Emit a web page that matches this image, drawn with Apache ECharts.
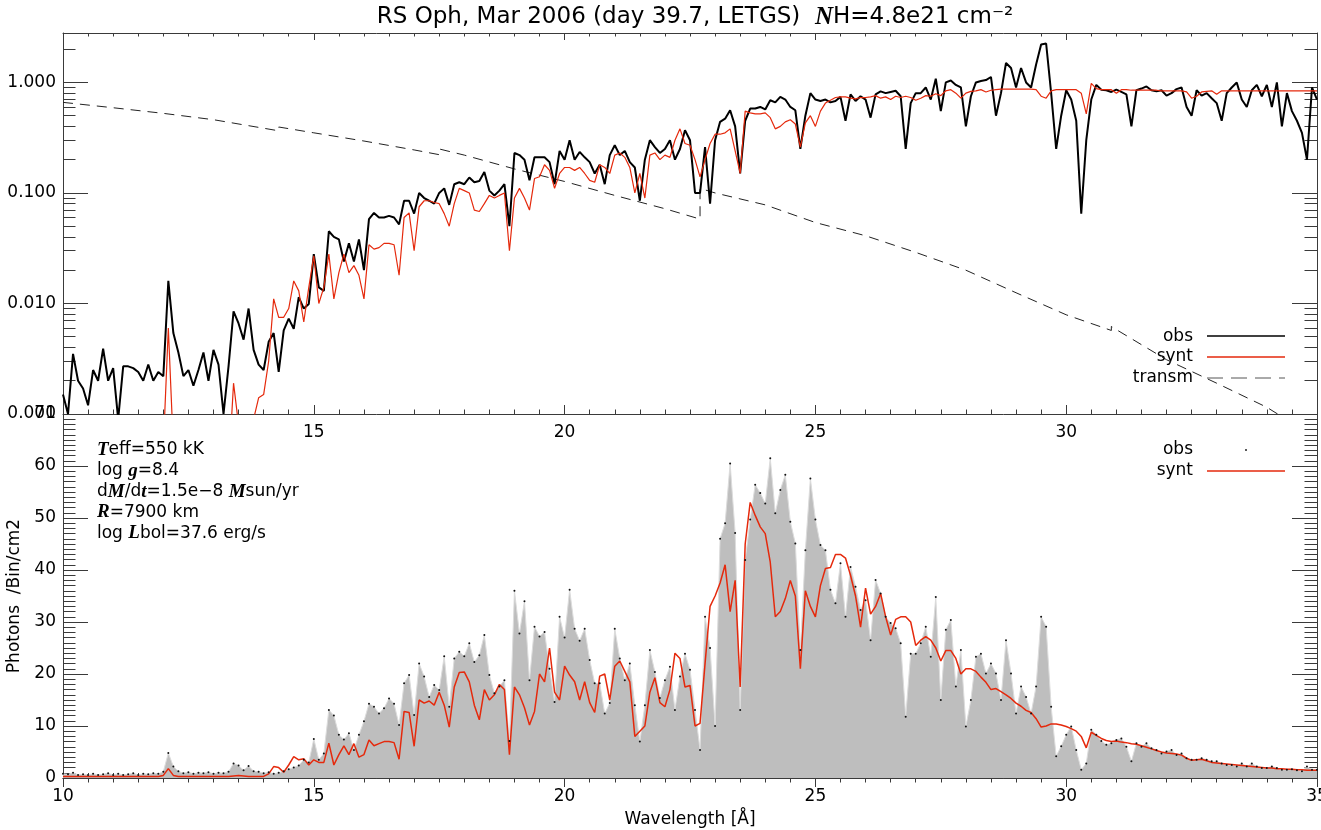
<!DOCTYPE html>
<html>
<head>
<meta charset="utf-8">
<title>RS Oph LETGS</title>
<script src="https://cdn.jsdelivr.net/npm/echarts@6/dist/echarts.min.js"></script>
<style>
  html, body { margin: 0; padding: 0; background: #fff; }
  #chart { width: 1321px; height: 830px; }
</style>
</head>
<body>
<div id="chart"></div>
<script>
// wavelength grid of the spectra: 10.0 .. 35.0 A, 0.1 A steps
var lamStart = 10;
var lamStep = 0.1;

// top panel, observed flux (black)
var obsFlux = [
  0.0015, 0.001, 0.0035, 0.002, 0.0017, 0.0012, 0.0025, 0.002, 0.0039, 0.002,
  0.0026, 0.0009, 0.0027, 0.0027, 0.0026, 0.0024, 0.002, 0.0028, 0.002, 0.0024,
  0.0022, 0.016, 0.0054, 0.0036, 0.0022, 0.0025, 0.0018, 0.0025, 0.0036, 0.002,
  0.0038, 0.0028, 0.001, 0.0027, 0.0085, 0.0066, 0.0047, 0.009, 0.0038, 0.0028,
  0.0025, 0.0045, 0.0054, 0.0024, 0.0057, 0.0073, 0.0059, 0.0114, 0.009, 0.0099,
  0.028, 0.014, 0.013, 0.045, 0.04, 0.038, 0.024, 0.035, 0.024, 0.038,
  0.02, 0.058, 0.066, 0.06, 0.06, 0.062, 0.06, 0.052, 0.085, 0.085,
  0.065, 0.1, 0.09, 0.085, 0.08, 0.1, 0.11, 0.078, 0.12, 0.125,
  0.12, 0.138, 0.125, 0.128, 0.155, 0.105, 0.095, 0.105, 0.12, 0.05,
  0.23, 0.22, 0.2, 0.13, 0.21, 0.21, 0.21, 0.19, 0.12, 0.24,
  0.2, 0.3, 0.2, 0.235, 0.21, 0.19, 0.15, 0.18, 0.12, 0.22,
  0.27, 0.22, 0.24, 0.19, 0.17, 0.085, 0.2, 0.3, 0.26, 0.23,
  0.25, 0.3, 0.2, 0.25, 0.37, 0.3, 0.1, 0.1, 0.26, 0.08,
  0.3, 0.44, 0.47, 0.56, 0.4, 0.15, 0.45, 0.58, 0.58, 0.6,
  0.57, 0.69, 0.66, 0.74, 0.7, 0.6, 0.56, 0.25, 0.5, 0.8,
  0.7, 0.68, 0.7, 0.66, 0.68, 0.74, 0.45, 0.78, 0.68, 0.75,
  0.7, 0.48, 0.78, 0.83, 0.8, 0.82, 0.84, 0.75, 0.25, 0.65,
  0.8, 0.8, 0.9, 0.7, 1.08, 0.55, 1.0, 1.04, 0.95, 0.9,
  0.4, 0.75, 1.0, 1.03, 1.05, 1.12, 0.5, 0.8, 1.5, 1.35,
  0.9, 1.35, 1.0, 0.9, 1.45, 2.2, 2.25, 0.8, 0.25, 0.5,
  0.85, 0.7, 0.45, 0.065, 0.3, 0.7, 0.95, 0.86, 0.85, 0.82,
  0.86, 0.82, 0.78, 0.4, 0.85, 0.88, 0.92, 0.85, 0.83, 0.85,
  0.76, 0.8, 0.87, 0.9, 0.6, 0.5, 0.85, 0.76, 0.8, 0.72,
  0.65, 0.45, 0.8, 0.9, 1.0, 0.7, 0.6, 0.85, 0.95, 0.75,
  0.95, 0.6, 1.0, 0.4, 0.8, 0.55, 0.45, 0.35, 0.2, 0.9,
  0.7
];

// top panel, synthetic flux (red)
var syntFlux = [
  0.0002, 0.0002, 0.0002, 0.0002, 0.0002, 0.0002, 0.0002, 0.0002, 0.0002, 0.0002,
  0.0002, 0.0002, 0.0002, 0.0002, 0.0002, 0.0002, 0.0002, 0.0002, 0.0002, 0.0002,
  0.0005, 0.006, 0.0005, 0.0002, 0.0002, 0.0002, 0.0002, 0.0002, 0.0002, 0.0002,
  0.0002, 0.0002, 0.0002, 0.0003, 0.0019, 0.0008, 0.0007, 0.0008, 0.0009, 0.0014,
  0.0015, 0.003, 0.011, 0.0075, 0.0075, 0.009, 0.016, 0.013, 0.0068, 0.014,
  0.027, 0.01, 0.014, 0.028, 0.011, 0.019, 0.028, 0.019, 0.022, 0.018,
  0.011, 0.034, 0.031, 0.032, 0.035, 0.035, 0.034, 0.018, 0.06, 0.066,
  0.03, 0.075, 0.085, 0.085, 0.082, 0.08, 0.065, 0.05, 0.08, 0.11,
  0.105, 0.1, 0.07, 0.068, 0.08, 0.095, 0.09, 0.095, 0.1, 0.03,
  0.09, 0.11, 0.09, 0.07, 0.135, 0.14, 0.18, 0.16, 0.11, 0.15,
  0.17, 0.17, 0.16, 0.17, 0.15, 0.13, 0.125, 0.18, 0.17, 0.15,
  0.22, 0.23, 0.21, 0.17, 0.1, 0.15, 0.09, 0.22, 0.23, 0.2,
  0.22, 0.21, 0.3, 0.38, 0.28, 0.27, 0.2, 0.14, 0.2, 0.28,
  0.34, 0.34, 0.35, 0.38, 0.24, 0.15, 0.55, 0.53, 0.52, 0.52,
  0.53, 0.48, 0.38, 0.4, 0.44, 0.46, 0.42, 0.26, 0.43, 0.5,
  0.4, 0.55, 0.65, 0.69, 0.73, 0.74, 0.74, 0.72, 0.71, 0.73,
  0.73, 0.74, 0.76, 0.72, 0.74, 0.7, 0.75, 0.73, 0.75, 0.73,
  0.69, 0.72, 0.76, 0.75, 0.79, 0.76, 0.84, 0.86, 0.8, 0.72,
  0.8, 0.83, 0.84, 0.86, 0.82, 0.85, 0.86, 0.87, 0.87, 0.87,
  0.87, 0.87, 0.87, 0.87, 0.86, 0.75, 0.72, 0.84, 0.86, 0.86,
  0.86, 0.86, 0.86, 0.8, 0.52, 0.98, 0.88, 0.86, 0.86, 0.86,
  0.8, 0.86, 0.86, 0.85, 0.85, 0.85, 0.85, 0.85, 0.85, 0.84,
  0.84, 0.84, 0.84, 0.84, 0.82, 0.72, 0.75, 0.82, 0.83, 0.84,
  0.78, 0.84, 0.84, 0.84, 0.84, 0.84, 0.84, 0.84, 0.84, 0.84,
  0.84, 0.84, 0.84, 0.84, 0.84, 0.84, 0.84, 0.84, 0.84, 0.84,
  0.84
];

// ISM transmission (dashed), with the small jumps at the edges
var transmLam = [10, 11, 12, 13, 14, 14.3, 14.3, 15, 16, 17, 17.5, 17.5, 18, 19, 20, 21, 22, 22.7, 22.7,
  23, 24, 25, 26, 27, 28, 29, 30, 30.9, 30.9, 31, 32, 33, 34, 35];
var transmVal = [0.66, 0.59, 0.525, 0.46, 0.385, 0.365, 0.395, 0.35, 0.295, 0.245, 0.222, 0.25, 0.22, 0.165,
  0.127, 0.095, 0.072, 0.058, 0.11, 0.1, 0.078, 0.054, 0.041, 0.029, 0.02, 0.0125, 0.0079, 0.0057, 0.0062,
  0.0058, 0.0031, 0.0019, 0.00115, 0.0006];

// bottom panel, observed photons per bin (grey with dots)
var obsCounts = [
  0.8, 0.7, 1.0, 0.6, 0.7, 0.6, 0.8, 0.6, 0.7, 0.9,
  0.6, 0.8, 0.6, 0.7, 0.9, 0.6, 0.8, 0.7, 0.9, 0.8,
  1.2, 4.8, 2.2, 1.3, 0.9, 1.1, 0.8, 1.0, 0.9, 1.1,
  0.8, 1.0, 0.9, 1.2, 2.8, 2.4, 1.5, 2.3, 1.3, 1.2,
  0.9, 1.1, 0.8, 1.0, 1.3, 1.7, 2.0, 2.4, 3.5, 3.0,
  7.5, 3.5, 4.7, 13.1, 12.0, 8.3, 7.4, 8.6, 5.4, 8.3,
  10.9, 14.3, 13.7, 12.4, 13.4, 15.3, 14.3, 10.2, 18.2, 19.8,
  12.1, 22.0, 19.5, 15.6, 17.9, 16.9, 23.4, 13.7, 23.0, 24.3,
  23.4, 25.9, 22.3, 23.6, 27.5, 19.8, 16.3, 17.6, 18.8, 7.1,
  36.0, 27.8, 34.0, 18.8, 29.1, 27.2, 28.1, 21.0, 14.6, 31.0,
  27.0, 36.2, 28.7, 26.4, 28.7, 22.7, 18.2, 18.2, 12.4, 14.4,
  28.7, 23.0, 18.8, 22.0, 14.0, 7.0, 14.0, 24.6, 20.4, 15.4,
  18.8, 21.4, 13.1, 19.5, 23.9, 20.8, 13.1, 5.4, 31.0, 25.0,
  10.0, 46.0, 49.0, 60.5, 47.1, 13.1, 41.9, 49.7, 56.4, 54.8,
  52.8, 61.5, 50.9, 55.4, 58.3, 49.3, 45.1, 24.6, 43.8, 57.6,
  49.7, 44.8, 43.8, 36.2, 33.6, 41.3, 31.0, 40.6, 36.8, 32.3,
  34.2, 26.5, 38.1, 35.5, 31.0, 29.8, 28.8, 25.9, 11.8, 23.9,
  23.9, 25.9, 29.1, 23.3, 34.8, 15.0, 28.5, 30.4, 17.6, 24.6,
  9.9, 15.0, 23.3, 23.9, 20.1, 22.0, 20.1, 15.0, 26.5, 20.1,
  12.4, 17.6, 15.6, 12.4, 17.6, 31.0, 29.1, 13.7, 4.2, 6.1,
  8.3, 9.9, 5.4, 1.6, 2.8, 9.3, 8.3, 7.1, 6.4, 6.7,
  7.3, 7.6, 6.0, 3.2, 6.7, 6.0, 6.7, 5.7, 5.4, 4.7,
  5.1, 5.4, 4.4, 4.7, 3.8, 3.5, 3.5, 3.8, 3.5, 3.2,
  3.2, 2.8, 2.5, 2.5, 2.2, 2.8, 2.2, 2.8, 2.2, 1.9,
  1.9, 2.2, 1.9, 1.6, 1.6, 1.7, 1.5, 1.3, 2.2, 1.6,
  1.6
];

// bottom panel, synthetic photons per bin (red)
var syntCounts = [
  0.3, 0.3, 0.3, 0.3, 0.3, 0.3, 0.3, 0.3, 0.3, 0.3,
  0.3, 0.3, 0.3, 0.3, 0.3, 0.3, 0.3, 0.3, 0.3, 0.3,
  0.5, 1.8, 0.5, 0.3, 0.3, 0.3, 0.3, 0.3, 0.3, 0.3,
  0.3, 0.3, 0.3, 0.3, 0.4, 0.5, 0.4, 0.3, 0.3, 0.3,
  0.3, 0.8, 2.2, 2.0, 1.1, 2.5, 4.1, 3.5, 3.7, 2.5,
  3.5, 3.0, 3.0, 6.7, 2.5, 4.5, 6.2, 4.5, 6.6, 4.0,
  4.5, 7.3, 6.2, 6.6, 7.0, 7.0, 6.8, 3.6, 12.8, 12.6,
  6.1, 15.0, 14.4, 14.8, 14.0, 16.5, 14.0, 9.8, 17.5, 20.3,
  20.4, 18.5, 14.0, 11.2, 17.0, 15.0, 16.0, 18.0, 17.0, 4.5,
  17.5, 16.0, 13.5, 10.2, 12.8, 20.0, 18.5, 25.0, 16.5, 15.0,
  21.5, 19.8, 18.5, 15.0, 18.5, 14.5, 12.6, 19.6, 20.0, 15.0,
  21.5, 22.5, 20.5, 18.5, 8.0, 9.0, 10.0, 16.5, 19.3, 14.5,
  13.7, 17.0, 24.0, 23.0, 17.5, 17.8, 10.0, 10.5, 22.0, 33.0,
  35.0, 37.5, 41.0, 32.0, 38.0, 17.5, 45.0, 53.0, 50.5, 48.3,
  47.0, 41.5, 31.0, 32.0, 34.5, 38.0, 35.0, 21.0, 36.0, 33.0,
  31.0, 37.0, 40.3, 40.5, 43.0, 43.0, 42.3, 39.0, 35.0, 29.0,
  36.5, 31.5, 33.0, 35.5, 31.0, 27.5, 30.5, 31.0, 31.0, 30.0,
  25.5, 26.5, 27.2, 26.5, 25.0, 22.5, 24.5, 24.5, 23.0, 20.0,
  21.0, 21.0, 20.5, 19.4, 18.4, 17.0, 17.2, 16.6, 16.0, 15.3,
  14.4, 13.8, 13.0, 12.6, 11.4, 9.8, 10.0, 10.4, 10.4, 10.2,
  9.9, 9.5, 9.0, 8.0, 5.8, 8.8, 8.2, 7.6, 7.2, 7.0,
  7.1, 6.9, 6.8, 6.6, 6.5, 6.2, 5.9, 5.6, 5.3, 5.0,
  4.8, 4.7, 4.6, 4.4, 3.8, 3.4, 3.5, 3.6, 3.3, 3.0,
  2.9, 2.8, 2.7, 2.6, 2.5, 2.4, 2.3, 2.2, 2.1, 2.0,
  1.9, 1.9, 1.8, 1.8, 1.7, 1.7, 1.6, 1.6, 1.5, 1.5,
  1.5
];

var xTicks = [10, 15, 20, 25, 30, 35];
var topXLabels = [15, 20, 25, 30];
var logMajor = [0.001, 0.01, 0.1, 1];
var logMinor = [0.002, 0.003, 0.004, 0.005, 0.006, 0.007, 0.008, 0.009,
  0.02, 0.03, 0.04, 0.05, 0.06, 0.07, 0.08, 0.09,
  0.2, 0.3, 0.4, 0.5, 0.6, 0.7, 0.8, 0.9, 2];

var FONT = 'DejaVu Sans';
var AXC = '#3a3a3a';
var RED = '#e5290c';

function onGrid(vals) {
  return vals.map(function (v, i) {
    return [Math.round((lamStart + i * lamStep) * 10) / 10, v];
  });
}
function zipXY(xs, ys) {
  return xs.map(function (x, i) { return [x, ys[i]]; });
}

function xAxisDef(grid, pos, labels, major, minor) {
  return {
    type: 'value', gridIndex: grid, position: pos,
    min: 10, max: 35, interval: 5,
    axisLine: { show: true, lineStyle: { color: AXC, width: 1 } },
    axisTick: { show: true, inside: true, length: major, lineStyle: { color: AXC } },
    minorTick: { show: true, splitNumber: 10, length: minor, lineStyle: { color: AXC } },
    splitLine: { show: false },
    axisLabel: labels ? {
      show: true, customValues: labels, color: '#000', fontFamily: FONT, fontSize: 17, margin: 10
    } : { show: false }
  };
}

function logAxisDef(pos, ticks, len, labels, line) {
  return {
    type: 'log', logBase: 10, gridIndex: 0, position: pos,
    min: 0.001, max: 2.8,
    axisLine: { show: line, lineStyle: { color: AXC, width: 1 } },
    axisTick: { show: true, inside: true, length: len, customValues: ticks, lineStyle: { color: AXC } },
    splitLine: { show: false },
    axisLabel: labels ? {
      show: true, customValues: logMajor, color: '#000', fontFamily: FONT, fontSize: 17, margin: 7,
      formatter: function (v) { return Number(v).toFixed(3); }
    } : { show: false }
  };
}

function countAxisDef(pos, labels) {
  return {
    type: 'value', gridIndex: 1, position: pos,
    min: 0, max: 70, interval: 10,
    axisLine: { show: true, lineStyle: { color: AXC, width: 1 } },
    axisTick: { show: true, inside: true, length: 25, lineStyle: { color: AXC } },
    minorTick: { show: true, splitNumber: 10, length: 12.5, lineStyle: { color: AXC } },
    splitLine: { show: false },
    axisLabel: labels ? { show: true, color: '#000', fontFamily: FONT, fontSize: 17, margin: 7 } : { show: false }
  };
}

var chart = echarts.init(document.getElementById('chart'), null, { renderer: 'canvas' });

var annoRich = {
  n: { fontFamily: FONT, fontSize: 17, color: '#000' },
  b: { fontFamily: 'Liberation Serif', fontStyle: 'italic', fontWeight: 'bold', fontSize: 19, color: '#000' }
};
var annoLines = [
  '{b|T}{n|eff=550 kK}',
  '{n|log }{b|g}{n|=8.4}',
  '{n|d}{b|M}{n|/d}{b|t}{n|=1.5e\u22128 }{b|M}{n|sun/yr}',
  '{b|R}{n|=7900 km}',
  '{n|log }{b|L}{n|bol=37.6 erg/s}'
];

var graphics = [
  { type: 'text', x: 15, y: 596, rotation: Math.PI / 2,
    style: { text: 'Photons  /Bin/cm2', fontFamily: FONT, fontSize: 17, fill: '#000', align: 'center', verticalAlign: 'middle' } },
  { type: 'text', x: 690, y: 820,
    style: { text: 'Wavelength [\u00c5]', fontFamily: FONT, fontSize: 17, fill: '#000', align: 'center', verticalAlign: 'middle' } },
  // top legend
  { type: 'text', x: 1193, y: 337, style: { text: 'obs', fontFamily: FONT, fontSize: 17, fill: '#000', align: 'right', verticalAlign: 'middle' } },
  { type: 'line', shape: { x1: 1207, y1: 336, x2: 1285, y2: 336 }, style: { stroke: '#000', lineWidth: 1.3 } },
  { type: 'text', x: 1193, y: 357, style: { text: 'synt', fontFamily: FONT, fontSize: 17, fill: '#000', align: 'right', verticalAlign: 'middle' } },
  { type: 'line', shape: { x1: 1207, y1: 357, x2: 1285, y2: 357 }, style: { stroke: RED, lineWidth: 1.3 } },
  { type: 'text', x: 1193, y: 378, style: { text: 'transm', fontFamily: FONT, fontSize: 17, fill: '#000', align: 'right', verticalAlign: 'middle' } },
  { type: 'line', shape: { x1: 1207, y1: 378, x2: 1285, y2: 378 }, style: { stroke: '#555', lineWidth: 1, lineDash: [16, 8] } },
  // bottom legend
  { type: 'text', x: 1193, y: 450, style: { text: 'obs', fontFamily: FONT, fontSize: 17, fill: '#000', align: 'right', verticalAlign: 'middle' } },
  { type: 'circle', shape: { cx: 1246, cy: 450, r: 1 }, style: { fill: '#222' } },
  { type: 'text', x: 1193, y: 471, style: { text: 'synt', fontFamily: FONT, fontSize: 17, fill: '#000', align: 'right', verticalAlign: 'middle' } },
  { type: 'line', shape: { x1: 1207, y1: 471, x2: 1285, y2: 471 }, style: { stroke: RED, lineWidth: 1.3 } }
];
annoLines.forEach(function (t, i) {
  graphics.push({ type: 'text', x: 97, y: 450 + i * 20.8,
    style: { text: t, rich: annoRich, verticalAlign: 'middle', align: 'left' } });
});

var option = {
  animation: false,
  backgroundColor: '#fff',
  title: {
    left: 690, top: 0, textAlign: 'center',
    text: '{a|RS Oph, Mar 2006 (day 39.7, LETGS)  }{i|N}{a|H=4.8e21 cm\u207b\u00b2}',
    textStyle: {
      fontWeight: 'normal',
      rich: {
        a: { fontFamily: FONT, fontSize: 23, fontWeight: 'normal', color: '#000' },
        i: { fontFamily: 'Liberation Serif', fontStyle: 'italic', fontWeight: 'bold', fontSize: 25, color: '#000' }
      }
    }
  },
  grid: [
    { left: 63, top: 33, width: 1254, height: 381, outerBoundsMode: 'none', containLabel: false },
    { left: 63, top: 414, width: 1254, height: 364, outerBoundsMode: 'none', containLabel: false }
  ],
  xAxis: [
    xAxisDef(0, 'bottom', topXLabels, 9, 4.5),
    xAxisDef(0, 'top', null, 7, 3.5),
    xAxisDef(1, 'bottom', xTicks, 12, 5),
    xAxisDef(1, 'top', null, 9, 4.5)
  ],
  yAxis: [
    logAxisDef('left', logMajor, 25, true, true),
    logAxisDef('left', logMinor, 12.5, false, false),
    logAxisDef('right', logMajor, 25, false, true),
    logAxisDef('right', logMinor, 12.5, false, false),
    countAxisDef('left', true),
    countAxisDef('right', false)
  ],
  graphic: graphics,
  series: [
    {
      name: 'transm', type: 'line', xAxisIndex: 0, yAxisIndex: 0,
      data: zipXY(transmLam, transmVal), showSymbol: false, clip: true,
      lineStyle: { color: '#222', width: 1, type: [10, 7] }
    },
    {
      name: 'obs', type: 'line', xAxisIndex: 0, yAxisIndex: 0,
      data: onGrid(obsFlux), showSymbol: false, clip: true,
      lineStyle: { color: '#000', width: 2 }
    },
    {
      name: 'synt', type: 'line', xAxisIndex: 0, yAxisIndex: 0,
      data: onGrid(syntFlux), showSymbol: false, clip: true,
      lineStyle: { color: RED, width: 1.2 }
    },
    {
      name: 'obs counts', type: 'line', xAxisIndex: 2, yAxisIndex: 4,
      data: onGrid(obsCounts), clip: true,
      symbol: 'circle', symbolSize: 2, showAllSymbol: true,
      itemStyle: { color: '#111' },
      lineStyle: { color: '#dcdcdc', width: 1 },
      areaStyle: { color: '#bebebe', opacity: 1 }
    },
    {
      name: 'synt counts', type: 'line', xAxisIndex: 2, yAxisIndex: 4,
      data: onGrid(syntCounts), showSymbol: false, clip: true,
      lineStyle: { color: RED, width: 1.5 }
    }
  ]
};

chart.setOption(option);
</script>
</body>
</html>
